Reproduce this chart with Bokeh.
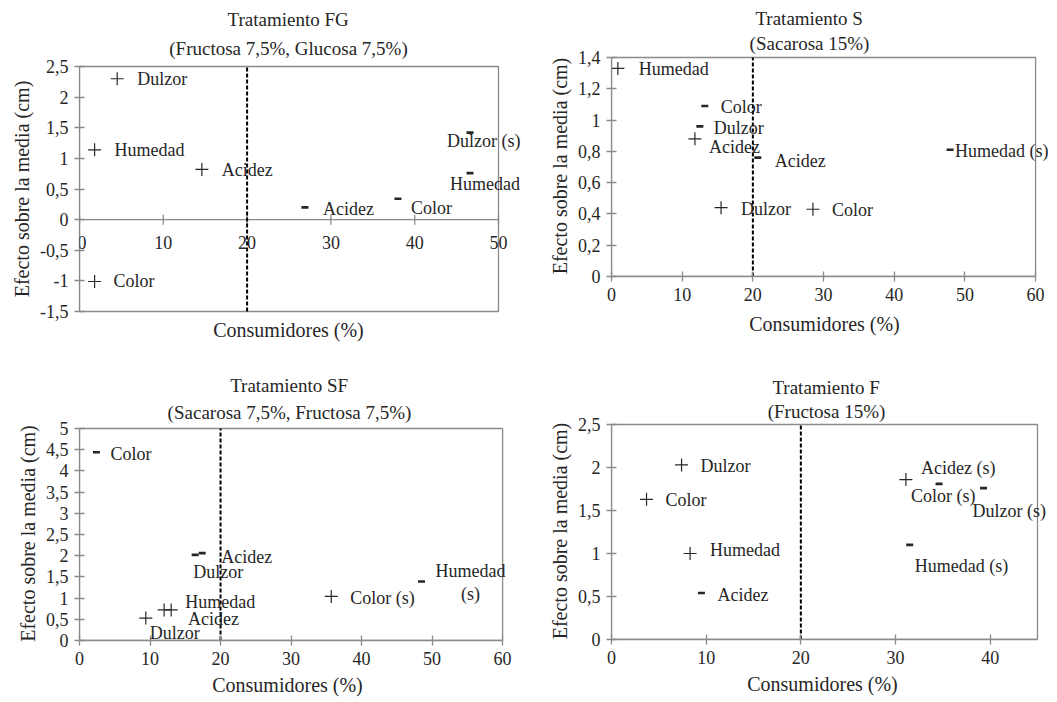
import math
from bokeh.plotting import figure
from bokeh.models import Label, FixedTicker, Range1d, Title
from bokeh.layouts import column, row
from bokeh.embed import file_html
from bokeh.resources import INLINE

# ---------------- data ----------------
x_label = "Consumidores (%)"
y_label = "Efecto sobre la media (cm)"

# Tratamiento FG
fg_title = ["Tratamiento FG", "(Fructosa 7,5%, Glucosa 7,5%)"]
fg_xlim = (0, 50)
fg_ylim = (-1.5, 2.5)
fg_xticks = [0, 10, 20, 30, 40, 50]
fg_xtick_labels = ["0", "10", "20", "30", "40", "50"]
fg_yticks = [-1.5, -1, -0.5, 0, 0.5, 1, 1.5, 2, 2.5]
fg_ytick_labels = ["-1,5", "-1", "-0,5", "0", "0,5", "1", "1,5", "2", "2,5"]
fg_attr = ["Dulzor", "Humedad", "Acidez", "Color", "Acidez", "Color", "Dulzor (s)", "Humedad"]
fg_x = [4.5, 1.8, 14.6, 1.8, 26.9, 38.0, 46.6, 46.6]
fg_y = [2.30, 1.14, 0.82, -1.01, 0.20, 0.34, 1.42, 0.76]
fg_mark = ["+", "+", "+", "+", "-", "-", "-", "-"]

# Tratamiento S
s_title = ["Tratamiento S", "(Sacarosa 15%)"]
s_xlim = (0, 60)
s_ylim = (0, 1.4)
s_xticks = [0, 10, 20, 30, 40, 50, 60]
s_xtick_labels = ["0", "10", "20", "30", "40", "50", "60"]
s_yticks = [0, 0.2, 0.4, 0.6, 0.8, 1, 1.2, 1.4]
s_ytick_labels = ["0", "0,2", "0,4", "0,6", "0,8", "1", "1,2", "1,4"]
s_attr = ["Humedad", "Color", "Dulzor", "Acidez", "Acidez", "Dulzor", "Color", "Humedad (s)"]
s_x = [0.9, 13.2, 12.5, 11.8, 20.7, 15.5, 28.5, 47.9]
s_y = [1.33, 1.09, 0.96, 0.88, 0.76, 0.44, 0.43, 0.81]
s_mark = ["+", "-", "-", "+", "-", "+", "+", "-"]

# Tratamiento SF
sf_title = ["Tratamiento SF", "(Sacarosa 7,5%, Fructosa 7,5%)"]
sf_xlim = (0, 60)
sf_ylim = (0, 5)
sf_xticks = [0, 10, 20, 30, 40, 50, 60]
sf_xtick_labels = ["0", "10", "20", "30", "40", "50", "60"]
sf_yticks = [0, 0.5, 1, 1.5, 2, 2.5, 3, 3.5, 4, 4.5, 5]
sf_ytick_labels = ["0", "0,5", "1", "1,5", "2", "2,5", "3", "3,5", "4", "4,5", "5"]
sf_attr = ["Color", "Dulzor", "Acidez", "Humedad\n(s)", "Color (s)", "Acidez", "Humedad", "Dulzor"]
sf_x = [2.4, 16.4, 17.4, 48.5, 35.7, 12.0, 13.0, 9.4]
sf_y = [4.44, 2.02, 2.06, 1.39, 1.04, 0.72, 0.72, 0.53]
sf_mark = ["-", "-", "-", "-", "+", "+", "+", "+"]

# Tratamiento F
f_title = ["Tratamiento F", "(Fructosa 15%)"]
f_xlim = (0, 45)
f_ylim = (0, 2.5)
f_xticks = [0, 10, 20, 30, 40]
f_xtick_labels = ["0", "10", "20", "30", "40"]
f_yticks = [0, 0.5, 1, 1.5, 2, 2.5]
f_ytick_labels = ["0", "0,5", "1", "1,5", "2", "2,5"]
f_attr = ["Dulzor", "Color", "Humedad", "Acidez", "Acidez (s)", "Color (s)", "Dulzor (s)", "Humedad (s)"]
f_x = [7.4, 3.7, 8.3, 9.5, 31.1, 34.6, 39.3, 31.5]
f_y = [2.03, 1.63, 1.00, 0.54, 1.86, 1.81, 1.76, 1.10]
f_mark = ["+", "+", "+", "-", "+", "-", "-", "-"]

threshold = 20

# ---------------- label placement (screen px: right, down) ----------------
fg_dx = [20, 20, 20, 19, 18, 13, -23, -20]
fg_dy = [0, 0, 1, 0, 2, 9, 8, 11]
fg_al = ["left"] * 8
s_dx = [21, 16, 14, 14, 17, 20, 19, 5]
s_dy = [1, 1, 2, 8, 3, 1, 1, 1]
s_al = ["left"] * 8
sf_dx = [14, -2, 19, 49, 19, 24, 14, 4]
sf_dy = [2, 17, 4, 1, 2, 9, -8, 15]
sf_al = ["left", "left", "left", "center", "left", "left", "left", "left"]
f_dx = [19, 19, 20, 16, 15, -28, -11, 5]
f_dy = [1, 1, -4, 2, -12, 12, 23, 21]
f_al = ["left"] * 8

FONT = "Liberation Serif"
TXT = "#262626"
AX = "#8a8a8a"

# Times / Liberation Serif advance widths (1/1000 em)
_W = {" ": 250, "(": 333, ")": 333, "%": 833, ",": 250, "-": 333, ".": 250,
      "A": 722, "C": 667, "D": 722, "E": 611, "F": 556, "G": 722, "H": 722, "S": 556, "T": 611,
      "a": 444, "b": 500, "c": 444, "d": 500, "e": 444, "f": 333, "g": 500, "h": 500,
      "i": 278, "l": 278, "m": 778, "n": 500, "o": 500, "r": 333, "s": 389, "t": 278,
      "u": 500, "z": 444}


def tw(s, size):
    return sum(_W.get(c, 500) for c in s) * size / 1000.0


def style_axis(ax):
    ax.axis_line_color = AX
    ax.axis_line_width = 1.3
    ax.major_tick_line_color = AX
    ax.major_tick_line_width = 1.3
    ax.major_tick_in = 5
    ax.major_tick_out = 5
    ax.minor_tick_line_color = None
    ax.major_label_text_font = FONT
    ax.major_label_text_font_size = "18px"
    ax.major_label_text_color = TXT
    ax.major_label_standoff = 6
    ax.axis_label_text_font = FONT
    ax.axis_label_text_font_size = "20px"
    ax.axis_label_text_font_style = "normal"
    ax.axis_label_text_color = TXT
    ax.axis_label_standoff = 4


def panel(title, xlim, ylim, xticks, xlabels, yticks, ylabels, xs, ys, marks, names,
          dxs, dys, aligns, geo):
    fw, fh = geo["size"]
    bx0, bx1, by0, by1 = geo["box"]
    fg = geo["zero_axis"]
    ppx = (bx1 - bx0) / (xlim[1] - xlim[0])
    ppy = (by1 - by0) / (ylim[1] - ylim[0])
    fl = bx0
    fr = fw
    ft = by0 - 2
    fb = by1 + 2 if fg else by1
    xr = Range1d(xlim[0], xlim[1] + (fr - bx1) / ppx)
    yr = Range1d(ylim[0] - (fb - by1) / ppy, ylim[1] + (by0 - ft) / ppy)

    p = figure(width=fw, height=fh, x_range=xr, y_range=yr,
               output_backend="svg", toolbar_location=None,
               min_border_left=fl, min_border_right=0,
               min_border_top=ft, min_border_bottom=fh - fb)
    p.grid.visible = False
    p.outline_line_color = None
    p.background_fill_color = "white"
    p.border_fill_color = "white"

    # plot box
    p.line([xlim[0], xlim[1], xlim[1], xlim[0], xlim[0]],
           [ylim[0], ylim[0], ylim[1], ylim[1], ylim[0]],
           line_color=AX, line_width=1.3)

    # two-line title (first line outermost)
    tc = geo["title_center"] - fl
    p.title.text = title[0]
    p.title.align = "left"
    p.title.offset = tc - tw(title[0], 19) / 2
    p.title.text_font = FONT
    p.title.text_font_size = "19px"
    p.title.text_font_style = "normal"
    p.title.text_color = TXT
    p.title.standoff = 0
    p.add_layout(Title(text=title[1], align="left", offset=tc - tw(title[1], 19) / 2,
                       text_font=FONT, text_font_size="19px", text_font_style="normal",
                       text_color=TXT, standoff=geo["title_standoff"]), "above")

    ya = p.yaxis[0]
    xa = p.xaxis[0]
    style_axis(ya)
    style_axis(xa)
    ya.ticker = FixedTicker(ticks=yticks)
    ya.major_label_overrides = {float(t): l for t, l in zip(yticks, ylabels)}
    ya.axis_label = y_label
    ya.bounds = ylim
    if fg:
        # horizontal axis crossing at zero
        xa.visible = False
        p.segment(x0=[xlim[0]], y0=[0], x1=[xlim[1]], y1=[0], line_color=AX, line_width=1.3)
        p.scatter(xticks, [0] * len(xticks), marker="dash", angle=math.pi / 2, size=10,
                  line_color=AX, line_width=1.3)
        for t, l in zip(xticks, xlabels):
            first = t == xlim[0]
            p.add_layout(Label(x=t, y=0, text=l, x_offset=-2 if first else 0, y_offset=-23,
                               text_align="left" if first else "center",
                               text_baseline="middle", text_font=FONT,
                               text_font_size="18px", text_color=TXT))
    else:
        xa.ticker = FixedTicker(ticks=xticks)
        xa.major_label_overrides = {float(t): l for t, l in zip(xticks, xlabels)}
        xa.bounds = xlim

    xc = geo["xlabel_center"] - fl
    p.add_layout(Title(text=x_label, align="left", offset=xc - tw(x_label, 20) / 2,
                       text_font=FONT, text_font_size="20px", text_font_style="normal",
                       text_color=TXT, standoff=geo["xlabel_standoff"]), "below")

    # threshold line
    p.segment(x0=[threshold], y0=[ylim[0]], x1=[threshold], y1=[ylim[1]],
              line_color="black", line_dash="4 2", line_width=2)

    px = [x for x, m in zip(xs, marks) if m == "+"]
    py = [y for y, m in zip(ys, marks) if m == "+"]
    mx = [x for x, m in zip(xs, marks) if m == "-"]
    my = [y for y, m in zip(ys, marks) if m == "-"]
    p.scatter(px, py, marker="cross", size=13, line_color=TXT, line_width=1.2)
    p.scatter(mx, my, marker="dash", size=7, line_color=TXT, line_width=2.6)

    for x, y, t, dx, dy, al in zip(xs, ys, names, dxs, dys, aligns):
        p.add_layout(Label(x=x, y=y, text=t, x_offset=dx, y_offset=-dy,
                           text_align=al, text_baseline="middle",
                           text_font=FONT, text_font_size="18px", text_color=TXT,
                           text_line_height=1.15))
    return p


p1 = panel(fg_title, fg_xlim, fg_ylim, fg_xticks, fg_xtick_labels, fg_yticks, fg_ytick_labels,
           fg_x, fg_y, fg_mark, fg_attr, fg_dx, fg_dy, fg_al,
           dict(size=(528, 358), box=(79, 498, 66, 311), zero_axis=True,
                title_center=288, xlabel_center=288, title_standoff=12, xlabel_standoff=6))
p2 = panel(s_title, s_xlim, s_ylim, s_xticks, s_xtick_labels, s_yticks, s_ytick_labels,
           s_x, s_y, s_mark, s_attr, s_dx, s_dy, s_al,
           dict(size=(529, 358), box=(81, 507, 57, 276), zero_axis=False,
                title_center=279, xlabel_center=294, title_standoff=4, xlabel_standoff=14))
p3 = panel(sf_title, sf_xlim, sf_ylim, sf_xticks, sf_xtick_labels, sf_yticks, sf_ytick_labels,
           sf_x, sf_y, sf_mark, sf_attr, sf_dx, sf_dy, sf_al,
           dict(size=(528, 344), box=(77, 502, 70, 282), zero_axis=False,
                title_center=287, xlabel_center=285, title_standoff=8, xlabel_standoff=8))
p4 = panel(f_title, f_xlim, f_ylim, f_xticks, f_xtick_labels, f_yticks, f_ytick_labels,
           f_x, f_y, f_mark, f_attr, f_dx, f_dy, f_al,
           dict(size=(529, 344), box=(83, 509, 66, 281), zero_axis=False,
                title_center=298, xlabel_center=294, title_standoff=2, xlabel_standoff=8))

layout = row(column(p1, p3), column(p2, p4))
open("out.html", "w").write(file_html(layout, INLINE))
